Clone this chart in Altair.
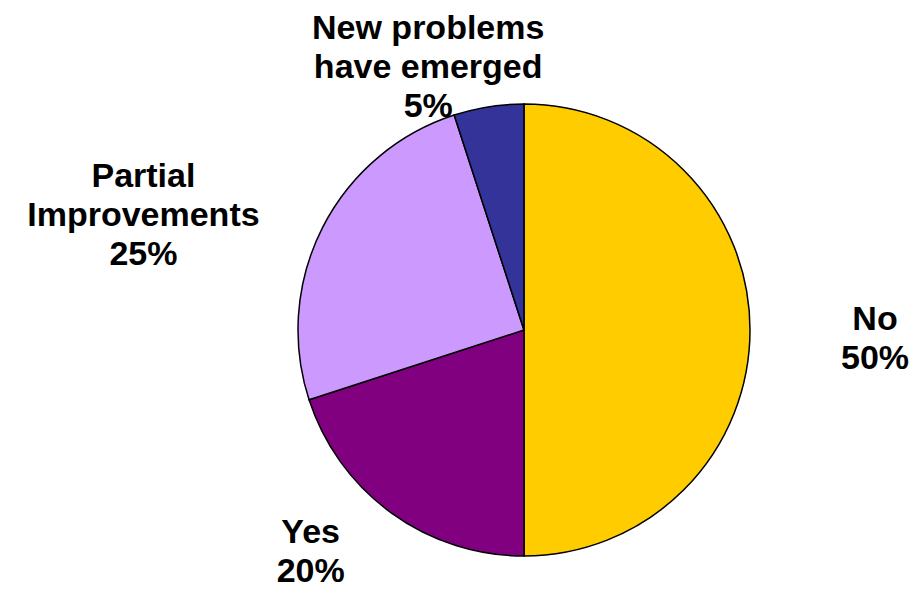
import altair as alt
import pandas as pd

categories = ["No", "Yes", "Partial Improvements", "New problems have emerged"]
labels = ["No\n50%", "Yes\n20%", "Partial\nImprovements\n25%", "New problems\nhave emerged\n5%"]
values = [50, 20, 25, 5]
slice_order = [0, 1, 2, 3]
colors = ["#FFCC00", "#800080", "#CC99FF", "#333399"]

df = pd.DataFrame({"category": categories, "label": labels, "value": values, "order": slice_order})

base = alt.Chart(df).encode(
    theta=alt.Theta("value:Q", stack=True),
    order=alt.Order("order:Q"),
    detail="category:N",
)

pie = base.mark_arc(outerRadius=226, stroke="black", strokeWidth=1.5).encode(
    color=alt.Color("category:N", scale=alt.Scale(domain=categories, range=colors), legend=None)
)

# label placement styles (radius, dx, dy) per category
label_style = {
    "No": (351, 0, -10),
    "Yes": (300, -37, -40),
    "Partial Improvements": (380, -42, 20),
    "New problems have emerged": (280, -52, -24),
}

layers = [pie]
for cat in categories:
    r, dx, dy = label_style[cat]
    layers.append(
        base.mark_text(
            radius=r, dx=dx, dy=dy, font="Liberation Sans", fontSize=34, fontWeight="bold",
            lineBreak="\n", lineHeight=39, color="black", align="center", baseline="middle",
        ).encode(text=alt.condition(alt.datum.category == cat, "label:N", alt.value("")))
    )

chart = alt.layer(*layers).properties(
    width=760, height=520,
    padding={"left": 136, "top": 62, "right": 8, "bottom": 5},
    autosize="none",
).configure_view(stroke=None)

chart.save("out.html", embed_options={"renderer": "svg", "actions": False})
